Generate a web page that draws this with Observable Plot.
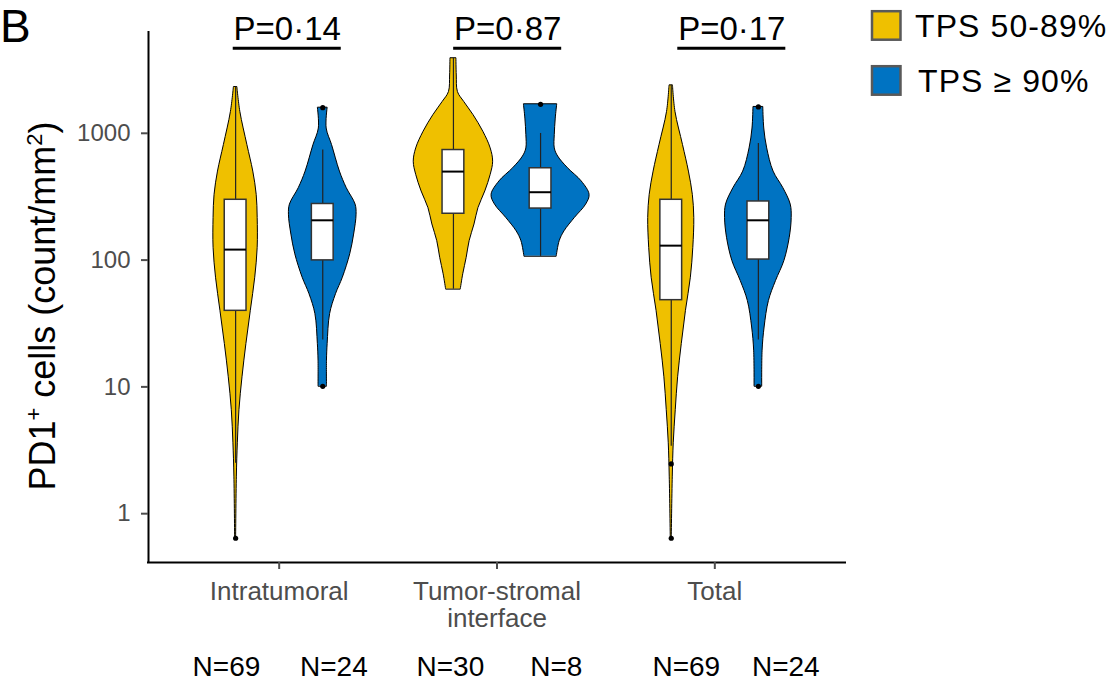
<!DOCTYPE html>
<html><head><meta charset="utf-8">
<script src="https://cdn.jsdelivr.net/npm/d3@7"></script>
<script src="https://cdn.jsdelivr.net/npm/@observablehq/plot@0.6"></script>
<style>
body{margin:0;background:#fff;}
#chart{position:relative;width:1118px;height:680px;}
</style></head><body><div id="chart"></div>
<script>
// ---------- data ----------
const categories = ["Intratumoral", "Tumor-stromal\ninterface", "Total"];
const groups = ["TPS 50-89%", "TPS \u2265 90%"];
const groupColors = ["#EFC000", "#0073C2"];
const yTicks = [1, 10, 100, 1000];
const pLabels = ["P=0\u00B714", "P=0\u00B787", "P=0\u00B717"];
const nLabels = ["N=69", "N=24", "N=30", "N=8", "N=69", "N=24"];

// violin profiles: value (count/mm²) and relative density width
const intraLowV  = [0.637, 1.96, 3.59, 6.55, 11.9, 21.8, 39.8, 72.6, 125, 215, 327, 499, 807, 1476, 2317];
const intraLowD  = [0.01, 0.025, 0.045, 0.078, 0.14, 0.22, 0.31, 0.40, 0.45, 0.45, 0.43, 0.36, 0.24, 0.096, 0.035];
const intraHighV = [10.1, 16.1, 21.8, 37.5, 53.8, 72.6, 111, 159, 228, 274, 369, 499, 807, 1091, 1592];
const intraHighD = [0.086, 0.086, 0.10, 0.15, 0.27, 0.41, 0.56, 0.64, 0.69, 0.67, 0.49, 0.35, 0.19, 0.08, 0.10];
const tsLowV     = [58.9, 77.3, 104, 141, 191, 257, 348, 470, 597, 760, 1028, 1390, 1766, 2113, 2858, 3908];
const tsLowD     = [0.15, 0.20, 0.27, 0.33, 0.43, 0.51, 0.65, 0.76, 0.81, 0.76, 0.61, 0.41, 0.22, 0.092, 0.068, 0.061];
const tsHighV    = [107, 141, 169, 215, 274, 327, 417, 530, 655, 760, 968, 1306, 1694];
const tsHighD    = [0.33, 0.39, 0.49, 0.70, 0.93, 1.0, 0.84, 0.56, 0.36, 0.29, 0.29, 0.31, 0.34];
const totalLowV  = [0.637, 1.96, 3.59, 6.55, 11.9, 21.8, 39.8, 72.6, 125, 215, 327, 499, 807, 1476, 2388];
const totalLowD  = [0.01, 0.031, 0.051, 0.092, 0.14, 0.215, 0.30, 0.40, 0.45, 0.47, 0.44, 0.36, 0.24, 0.086, 0.035];
const totalHighV = [10.1, 19.3, 29.4, 47.6, 68.4, 98.2, 150, 215, 274, 369, 499, 760, 1091, 1614];
const totalHighD = [0.078, 0.086, 0.127, 0.215, 0.36, 0.53, 0.64, 0.68, 0.66, 0.51, 0.31, 0.18, 0.12, 0.10];

// box statistics, in violin order: intra 50-89, intra ≥90, ts 50-89, ts ≥90, total 50-89, total ≥90
const violinCat   = [0, 0, 1, 1, 2, 2];
const violinGroup = [0, 1, 0, 1, 0, 1];
const whiskerLow  = [2.5, 23.4, 59, 107, 3.4, 23.4];
const boxQ1       = [39.8, 99.5, 232, 255, 48.3, 101];
const boxMedian   = [121, 206, 499, 343, 130, 206];
const boxQ3       = [299, 277, 738, 530, 299, 290];
const whiskerHigh = [2317, 738, 3908, 997, 2388, 832];
const outlierViolin = [0, 1, 1, 3, 4, 4, 5, 5];
const outlierValue  = [0.64, 1594, 10.1, 1694, 2.47, 0.64, 1614, 10.1];

// annotation anchors (x in category units)
const pX = [1.037, 2.049, 3.078];
const nX = [0.758, 1.251, 1.786, 2.272, 2.869, 3.326];

// ---------- layout ----------
const dodge = [-0.2, 0.2];
const violinHalf = 0.225;
const boxHalf = 0.05;
const pHalf = 0.248;
const xDomain = [0.4, 3.6];
const yDomain = [Math.pow(10, -0.385), Math.pow(10, 3.795)];
const xc = k => violinCat[k] + 1 + dodge[violinGroup[k]];

const profV = [intraLowV, intraHighV, tsLowV, tsHighV, totalLowV, totalHighV];
const profD = [intraLowD, intraHighD, tsLowD, tsHighD, totalLowD, totalHighD];
const violinRows = profV.flatMap((vs, k) => vs.map((v, i) => ({k, grp: groups[violinGroup[k]], v, d: profD[k][i]})));
const boxRows = boxQ1.map((q1, k) => ({k, x: xc(k), q1, med: boxMedian[k], q3: boxQ3[k], lo: whiskerLow[k], hi: whiskerHigh[k]}));
const outRows = outlierValue.map((v, i) => ({x: xc(outlierViolin[i]), v}));
const pRows = pLabels.map((t, i) => ({t, x: pX[i]}));
const nRows = nLabels.map((t, i) => ({t, x: nX[i]}));

const FONT = "'Liberation Sans', Arial, Helvetica, sans-serif";

const plot = Plot.plot({
  width: 1118, height: 680,
  marginLeft: 148, marginRight: 273, marginTop: 32, marginBottom: 118,
  style: {fontFamily: FONT, background: "white", overflow: "visible"},
  x: {type: "linear", domain: xDomain},
  y: {type: "log", domain: yDomain},
  color: {domain: groups, range: groupColors},
  marks: [
    Plot.areaX(violinRows, {
      y: "v",
      x1: d => xc(d.k) - d.d * violinHalf,
      x2: d => xc(d.k) + d.d * violinHalf,
      z: "k", fill: "grp", stroke: "black", strokeWidth: 1, curve: "catmull-rom"
    }),
    Plot.ruleX(boxRows, {x: "x", y1: "lo", y2: "q1", stroke: "#222", strokeWidth: 1.2}),
    Plot.ruleX(boxRows, {x: "x", y1: "q3", y2: "hi", stroke: "#222", strokeWidth: 1.2}),
    Plot.rect(boxRows, {x1: d => d.x - boxHalf, x2: d => d.x + boxHalf, y1: "q1", y2: "q3", fill: "white", stroke: "#333", strokeWidth: 1.5}),
    Plot.ruleY(boxRows, {y: "med", x1: d => d.x - boxHalf, x2: d => d.x + boxHalf, stroke: "black", strokeWidth: 2}),
    Plot.dot(outRows, {x: "x", y: "v", r: 2.6, fill: "black", stroke: null}),
    Plot.ruleX([xDomain[0]], {stroke: "black", strokeWidth: 2, strokeLinecap: "square"}),
    Plot.ruleY([yDomain[0]], {stroke: "black", strokeWidth: 2, strokeLinecap: "square"}),
    Plot.axisY({ticks: yTicks, tickFormat: d => String(d), tickSize: 7, tickPadding: 11, fontSize: 24, color: "#4d4d4d", strokeWidth: 2, label: null}),
    Plot.axisX({ticks: [1, 2, 3], tickFormat: i => categories[i - 1], tickSize: 7, tickPadding: 11, fontSize: 26, lineHeight: 1.05, color: "#4d4d4d", strokeWidth: 2, label: null}),
    Plot.text(pRows, {x: "x", text: "t", frameAnchor: "top", dy: 7.3, lineAnchor: "bottom", fontSize: 33, fill: "black"}),
    Plot.ruleY(pRows, {y: () => yDomain[1], x1: d => d.x - pHalf, x2: d => d.x + pHalf, dy: 15.7, stroke: "black", strokeWidth: 3}),
    Plot.text(nRows, {x: "x", text: "t", frameAnchor: "bottom", dy: 113, lineAnchor: "bottom", fontSize: 28, fill: "black"})
  ]
});

document.getElementById("chart").appendChild(plot);

// ---------- panel letter, y label, legend ----------
const svg = d3.select(plot);
svg.append("text").attr("x", 0).attr("y", 42).attr("text-anchor", "start")
  .attr("font-size", 46).attr("font-family", FONT).attr("fill", "black").text("B");

const yl = svg.append("text").attr("transform", "translate(55,306) rotate(-90)")
  .attr("text-anchor", "middle").attr("font-size", 36).attr("font-family", FONT).attr("fill", "black");
yl.append("tspan").text("PD1");
yl.append("tspan").attr("font-size", 22).attr("dy", -14).text("+");
yl.append("tspan").attr("dy", 14).text(" cells (count/mm");
yl.append("tspan").attr("font-size", 22).attr("dy", -13).text("2");
yl.append("tspan").attr("dy", 13).text(")");

const lg = svg.append("g").attr("font-family", FONT).attr("text-anchor", "start");
const legendTop = [11.2, 66.2];
const legendBase = [37.3, 91.7];
groups.forEach((g, i) => {
  lg.append("rect").attr("x", 872).attr("y", legendTop[i]).attr("width", 28.5).attr("height", 28.5)
    .attr("fill", groupColors[i]).attr("stroke", "#595959").attr("stroke-width", 2.5);
  lg.append("text").attr("x", i === 0 ? 915 : 918).attr("y", legendBase[i]).attr("font-size", 32)
    .attr("text-anchor", "start").attr("letter-spacing", "1.1px").attr("fill", "black").text(g);
});
</script></body></html>
